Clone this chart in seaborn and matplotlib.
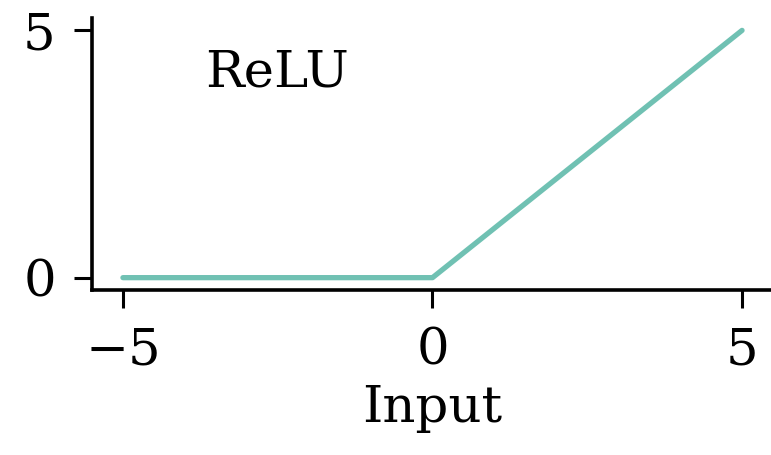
import matplotlib
matplotlib.use("Agg")
import matplotlib.pyplot as plt
import seaborn as sns
import pandas as pd

# ReLU evaluated at its breakpoints
inputs = [-5, 0, 5]
outputs = [0, 0, 5]
x_ticks = [-5, 0, 5]
y_ticks = [0, 5]
title_text = "ReLU"
x_label = "Input"

sns.set_theme(style="ticks")
plt.rcParams["font.family"] = ["DejaVu Serif"]
plt.rcParams["text.color"] = "black"
plt.rcParams["axes.labelcolor"] = "black"
plt.rcParams["xtick.color"] = "black"
plt.rcParams["ytick.color"] = "black"

fig = plt.figure(figsize=(7.71, 4.55), dpi=100)
ax = fig.add_axes([0.1193, 0.3626, 0.8833, 0.5978])

df = pd.DataFrame({"x": inputs, "y": outputs})
sns.lineplot(data=df, x="x", y="y", ax=ax, color="#70c1b3", linewidth=3.8)

ax.set_xlim(-5.5, 5.5)
ax.set_ylim(-0.25, 5.25)
ax.set_xticks(x_ticks)
ax.set_yticks(y_ticks)
ax.set_xticklabels([f"\u2212{abs(t)}" if t < 0 else str(t) for t in x_ticks])
ax.set_yticklabels([str(t) for t in y_ticks])
ax.set_xlabel(x_label, fontsize=37, labelpad=6)
ax.set_ylabel("")
ax.tick_params(axis="both", labelsize=37, length=13, width=2.2, pad=13)

sns.despine(ax=ax)
for side in ("left", "bottom"):
    ax.spines[side].set_linewidth(2.6)
    ax.spines[side].set_color("black")

ax.text(0.166, 0.748, title_text, transform=ax.transAxes, fontsize=37,
        ha="left", va="baseline")

fig.savefig("out.png", dpi=100)
